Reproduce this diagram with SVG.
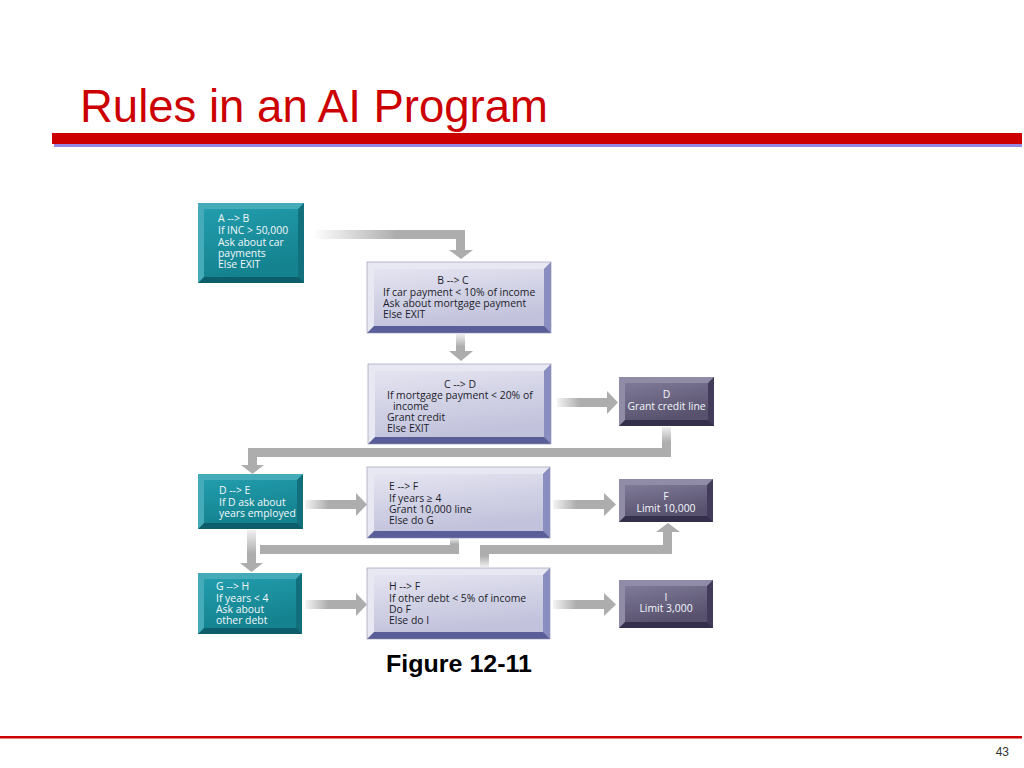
<svg xmlns="http://www.w3.org/2000/svg" width="1024" height="768" viewBox="0 0 1024 768">
<style>
.t{font-family:"Open Sans","Liberation Sans",sans-serif;font-size:10.4px}
.tw{fill:#f4f8fa}
.tl{fill:#1c1c28}
.bar{fill:#adadad}
.lb-b{fill:#5a5e98}.lb-r{fill:#8a8dc0}.lb-t{fill:#e8e8f3}.lb-f{fill:url(#gL)}
.tb-b{fill:#0c5e6a}.tb-r{fill:#12707d}.tb-t{fill:#46abb9}.tb-f{fill:url(#gT)}
.pb-b{fill:#34304c}.pb-r{fill:#423c5a}.pb-t{fill:#908ba6}.pb-f{fill:url(#gP)}
.edge{stroke:#8e8eae;stroke-width:0.6;fill:none}
</style>
<defs>
<linearGradient id="gL" x1="0" y1="0" x2="0.3" y2="1"><stop offset="0" stop-color="#e4e4f1"/><stop offset="1" stop-color="#c2c2dc"/></linearGradient>
<linearGradient id="gT" x1="0" y1="0" x2="0.3" y2="1"><stop offset="0" stop-color="#229cac"/><stop offset="1" stop-color="#14828f"/></linearGradient>
<linearGradient id="gP" x1="0" y1="0" x2="0.4" y2="1"><stop offset="0" stop-color="#7f7a97"/><stop offset="1" stop-color="#58526f"/></linearGradient>
<linearGradient id="fadeH" x1="0" y1="0" x2="1" y2="0"><stop offset="0" stop-color="#ffffff"/><stop offset="0.55" stop-color="#adadad"/></linearGradient>
<linearGradient id="fadeHs" x1="0" y1="0" x2="1" y2="0"><stop offset="0" stop-color="#f4f4f4"/><stop offset="0.45" stop-color="#adadad"/></linearGradient>
<linearGradient id="fadeV" x1="0" y1="0" x2="0" y2="1"><stop offset="0" stop-color="#f0f0f0"/><stop offset="0.7" stop-color="#adadad"/></linearGradient>
<linearGradient id="fadeVu" x1="0" y1="1" x2="0" y2="0"><stop offset="0" stop-color="#f0f0f0"/><stop offset="0.8" stop-color="#adadad"/></linearGradient>
</defs>
<rect width="1024" height="768" fill="#ffffff"/>
<g id="title">
<text x="80" y="122" font-family="Liberation Sans, Arial, sans-serif" font-size="47" fill="#cc0000" textLength="468" lengthAdjust="spacingAndGlyphs">Rules in an AI Program</text>
<rect x="54" y="143" width="968" height="4" fill="#9388e0"/>
<rect x="52" y="133" width="970" height="11" fill="#cc0000"/>
</g>
<g id="connectors">
<rect x="313" y="230" width="152" height="9" fill="url(#fadeH)"/>
<rect x="456" y="230" width="9" height="21" class="bar"/>
<polygon points="449,250 473,250 461,259" class="bar"/>
<rect x="456" y="334" width="9" height="18" fill="url(#fadeV)"/>
<polygon points="449,351 473,351 461,361" class="bar"/>
<rect x="557" y="398" width="51" height="9" fill="url(#fadeHs)"/>
<polygon points="607,391 607,414 618,402.5" class="bar"/>
<rect x="662" y="427" width="9" height="22" fill="url(#fadeV)"/>
<rect x="248" y="448" width="423" height="9" class="bar"/>
<rect x="248" y="448" width="9" height="18" class="bar"/>
<polygon points="241,465 264,465 252.5,474" class="bar"/>
<rect x="305" y="500" width="52" height="9" fill="url(#fadeHs)"/>
<polygon points="356,493 356,516 367,504.5" class="bar"/>
<rect x="553" y="500" width="52" height="9" fill="url(#fadeHs)"/>
<polygon points="604,493 604,516 616,504.5" class="bar"/>
<rect x="247" y="530" width="9" height="34" fill="url(#fadeV)"/>
<polygon points="240,563 263,563 251.5,572" class="bar"/>
<rect x="450" y="538" width="9" height="9" fill="url(#fadeV)"/>
<rect x="260" y="545" width="199" height="9" class="bar"/>
<rect x="480" y="553" width="9" height="14" fill="url(#fadeVu)"/>
<rect x="480" y="545" width="192" height="9" class="bar"/>
<rect x="663" y="531" width="9" height="23" class="bar"/>
<polygon points="656,532 680,532 668,523" class="bar"/>
<rect x="305" y="600" width="52" height="9" fill="url(#fadeHs)"/>
<polygon points="356,593 356,616 367,604.5" class="bar"/>
<rect x="553" y="600" width="52" height="9" fill="url(#fadeHs)"/>
<polygon points="604,593 604,616 616,604.5" class="bar"/>
</g>
<g id="nodeA">
<rect x="198" y="203" width="106" height="80" class="tb-b"/>
<polygon points="304,203 304,283 298,277 298,209" class="tb-r"/>
<polygon points="198,203 304,203 298,209 204,209 204,277 198,283" class="tb-t"/>
<rect x="204" y="209" width="94" height="68" class="tb-f"/>
<text class="t tw" x="218" y="222">A --&gt; B</text>
<text class="t tw" x="218" y="234">If INC &gt; 50,000</text>
<text class="t tw" x="218" y="246">Ask about car</text>
<text class="t tw" x="218" y="257">payments</text>
<text class="t tw" x="218" y="268">Else EXIT</text>
</g>
<g id="nodeB">
<rect x="367" y="262" width="184" height="71" class="lb-b"/>
<polygon points="551,262 551,333 544,326 544,269" class="lb-r"/>
<polygon points="367,262 551,262 544,269 374,269 374,326 367,333" class="lb-t"/>
<rect x="374" y="269" width="170" height="57" class="lb-f"/>
<rect x="367" y="262" width="184" height="71" class="edge"/>
<text class="t tl" x="453" y="284" text-anchor="middle">B --&gt; C</text>
<text class="t tl" x="383" y="296">If car payment &lt; 10% of income</text>
<text class="t tl" x="383" y="307">Ask about mortgage payment</text>
<text class="t tl" x="383" y="318">Else EXIT</text>
</g>
<g id="nodeC">
<rect x="368" y="364" width="183" height="80" class="lb-b"/>
<polygon points="551,364 551,444 544,437 544,371" class="lb-r"/>
<polygon points="368,364 551,364 544,371 375,371 375,437 368,444" class="lb-t"/>
<rect x="375" y="371" width="169" height="66" class="lb-f"/>
<rect x="368" y="364" width="183" height="80" class="edge"/>
<text class="t tl" x="460" y="388" text-anchor="middle">C --&gt; D</text>
<text class="t tl" x="387" y="399">If mortgage payment &lt; 20% of</text>
<text class="t tl" x="393" y="410">income</text>
<text class="t tl" x="387" y="421">Grant credit</text>
<text class="t tl" x="387" y="432">Else EXIT</text>
</g>
<g id="nodeD">
<rect x="619" y="377" width="95" height="49" class="pb-b"/>
<polygon points="714,377 714,426 708,420 708,383" class="pb-r"/>
<polygon points="619,377 714,377 708,383 625,383 625,420 619,426" class="pb-t"/>
<rect x="625" y="383" width="83" height="37" class="pb-f"/>
<text class="t tw" x="666.5" y="398" text-anchor="middle">D</text>
<text class="t tw" x="666.5" y="410" text-anchor="middle">Grant credit line</text>
</g>
<g id="nodeDE">
<rect x="198" y="474" width="105" height="55" class="tb-b"/>
<polygon points="303,474 303,529 297,523 297,480" class="tb-r"/>
<polygon points="198,474 303,474 297,480 204,480 204,523 198,529" class="tb-t"/>
<rect x="204" y="480" width="93" height="43" class="tb-f"/>
<text class="t tw" x="219" y="494">D --&gt; E</text>
<text class="t tw" x="219" y="506">If D ask about</text>
<text class="t tw" x="219" y="517">years employed</text>
</g>
<g id="nodeE">
<rect x="367" y="467" width="183" height="71" class="lb-b"/>
<polygon points="550,467 550,538 543,531 543,474" class="lb-r"/>
<polygon points="367,467 550,467 543,474 374,474 374,531 367,538" class="lb-t"/>
<rect x="374" y="474" width="169" height="57" class="lb-f"/>
<rect x="367" y="467" width="183" height="71" class="edge"/>
<text class="t tl" x="389" y="490">E --&gt; F</text>
<text class="t tl" x="389" y="502">If years ≥ 4</text>
<text class="t tl" x="389" y="513">Grant 10,000 line</text>
<text class="t tl" x="389" y="524">Else do G</text>
</g>
<g id="nodeF">
<rect x="619" y="479" width="94" height="43" class="pb-b"/>
<polygon points="713,479 713,522 707,516 707,485" class="pb-r"/>
<polygon points="619,479 713,479 707,485 625,485 625,516 619,522" class="pb-t"/>
<rect x="625" y="485" width="82" height="31" class="pb-f"/>
<text class="t tw" x="666" y="500" text-anchor="middle">F</text>
<text class="t tw" x="666" y="512" text-anchor="middle">Limit 10,000</text>
</g>
<g id="nodeG">
<rect x="198" y="573" width="104" height="61" class="tb-b"/>
<polygon points="302,573 302,634 296,628 296,579" class="tb-r"/>
<polygon points="198,573 302,573 296,579 204,579 204,628 198,634" class="tb-t"/>
<rect x="204" y="579" width="92" height="49" class="tb-f"/>
<text class="t tw" x="216" y="590">G --&gt; H</text>
<text class="t tw" x="216" y="602">If years &lt; 4</text>
<text class="t tw" x="216" y="613">Ask about</text>
<text class="t tw" x="216" y="624">other debt</text>
</g>
<g id="nodeH">
<rect x="367" y="568" width="183" height="71" class="lb-b"/>
<polygon points="550,568 550,639 543,632 543,575" class="lb-r"/>
<polygon points="367,568 550,568 543,575 374,575 374,632 367,639" class="lb-t"/>
<rect x="374" y="575" width="169" height="57" class="lb-f"/>
<rect x="367" y="568" width="183" height="71" class="edge"/>
<text class="t tl" x="389" y="590">H --&gt; F</text>
<text class="t tl" x="389" y="602">If other debt &lt; 5% of income</text>
<text class="t tl" x="389" y="613">Do F</text>
<text class="t tl" x="389" y="624">Else do I</text>
</g>
<g id="nodeI">
<rect x="619" y="580" width="94" height="48" class="pb-b"/>
<polygon points="713,580 713,628 707,622 707,586" class="pb-r"/>
<polygon points="619,580 713,580 707,586 625,586 625,622 619,628" class="pb-t"/>
<rect x="625" y="586" width="82" height="36" class="pb-f"/>
<text class="t tw" x="666" y="601" text-anchor="middle">I</text>
<text class="t tw" x="666" y="612" text-anchor="middle">Limit 3,000</text>
</g>
<g id="caption">
<text x="386" y="672" font-family="Liberation Sans, Arial, sans-serif" font-size="24" font-weight="bold" fill="#000000" textLength="146" lengthAdjust="spacingAndGlyphs">Figure 12-11</text>
</g>
<g id="footer">
<rect x="0" y="736" width="1022" height="2.5" fill="#cc0000"/>
<text x="1009" y="756" font-family="Liberation Sans, Arial, sans-serif" font-size="12" fill="#333333" text-anchor="end">43</text>
</g>
</svg>
